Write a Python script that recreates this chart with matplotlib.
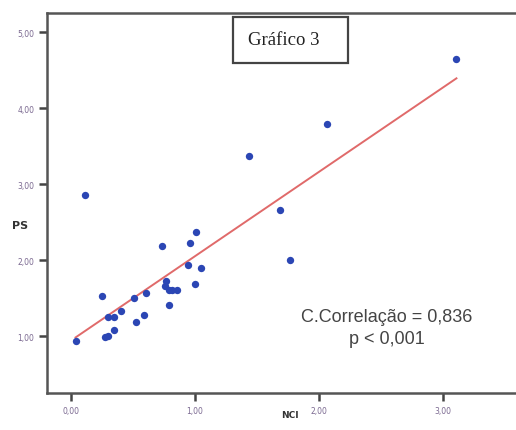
import matplotlib.pyplot as plt
import numpy as np
from matplotlib.patches import Rectangle

# NCI vs PS values
nci = [0.04, 0.25, 0.28, 0.30, 0.35, 0.30, 0.35, 0.41, 0.51, 0.53, 0.59, 0.61,
       0.74, 0.77, 0.76, 0.79, 0.79, 0.82, 0.86, 0.96, 1.01, 0.95, 1.00, 1.05,
       0.12, 1.44, 3.11, 2.07, 1.69, 1.77]
ps = [0.94, 1.52, 0.99, 1.00, 1.08, 1.25, 1.25, 1.33, 1.50, 1.19, 1.28, 1.57,
      2.19, 1.73, 1.66, 1.60, 1.41, 1.60, 1.61, 2.22, 2.37, 1.93, 1.68, 1.90,
      2.85, 3.37, 4.64, 3.79, 2.66, 2.00]
xticks = [0, 1, 2, 3]
yticks = [1, 2, 3, 4, 5]
tick_labels_x = ['0,00', '1,00', '2,00', '3,00']
tick_labels_y = ['1,00', '2,00', '3,00', '4,00', '5,00']

fig = plt.figure(figsize=(5.16, 4.31), dpi=100)
ax = fig.add_axes([0.0911, 0.0858, 0.9089, 0.8817])

ax.scatter(nci, ps, s=28, color='#2b46b4', zorder=3, linewidths=0)

# least squares line over the range of the data
slope, intercept = np.polyfit(nci, ps, 1)
xx = np.array([min(nci), max(nci)])
ax.plot(xx, slope * xx + intercept, color='#e06a6a', lw=1.4, zorder=2)

ax.set_xlim(-0.19, 3.59)
ax.set_ylim(0.25, 5.25)
ax.set_xticks(xticks)
ax.set_xticklabels(tick_labels_x)
ax.set_yticks(yticks)
ax.set_yticklabels(tick_labels_y)
ax.tick_params(length=6, width=1.8, color='#444444', labelsize=5.5,
               labelcolor='#7a6890', pad=3)

for side in ['left', 'bottom', 'top']:
    ax.spines[side].set_linewidth(1.8)
    ax.spines[side].set_color('#555555')
ax.spines['right'].set_visible(False)

fig.text(0.039, 0.476, 'PS', fontsize=8, fontweight='bold', color='#333333',
         ha='center', va='center')
fig.text(0.562, 0.037, 'NCI', fontsize=6.5, fontweight='bold', color='#333333',
         ha='center', va='center')

ax.text(3.0 - (442 - 386) / 124, 1 + (337 - 317) / 76, 'C.Correlação = 0,836',
        fontsize=13, color='#444444', ha='center', va='center',
        family='Liberation Sans')
ax.text(3.0 - (442 - 386) / 124, 1 + (337 - 339) / 76, 'p < 0,001',
        fontsize=13, color='#444444', ha='center', va='center',
        family='Liberation Sans')

# title box
fig.patches.append(Rectangle((0.4516, 0.8515), 0.2229, 0.1067,
                             transform=fig.transFigure, facecolor='white',
                             edgecolor='#444444', linewidth=1.6, zorder=5))
fig.text(0.5494, 0.907, 'Gráfico 3', fontsize=13.5, family='Liberation Serif',
         color='#222222', ha='center', va='center', zorder=6)

fig.savefig('out.png', dpi=100)
